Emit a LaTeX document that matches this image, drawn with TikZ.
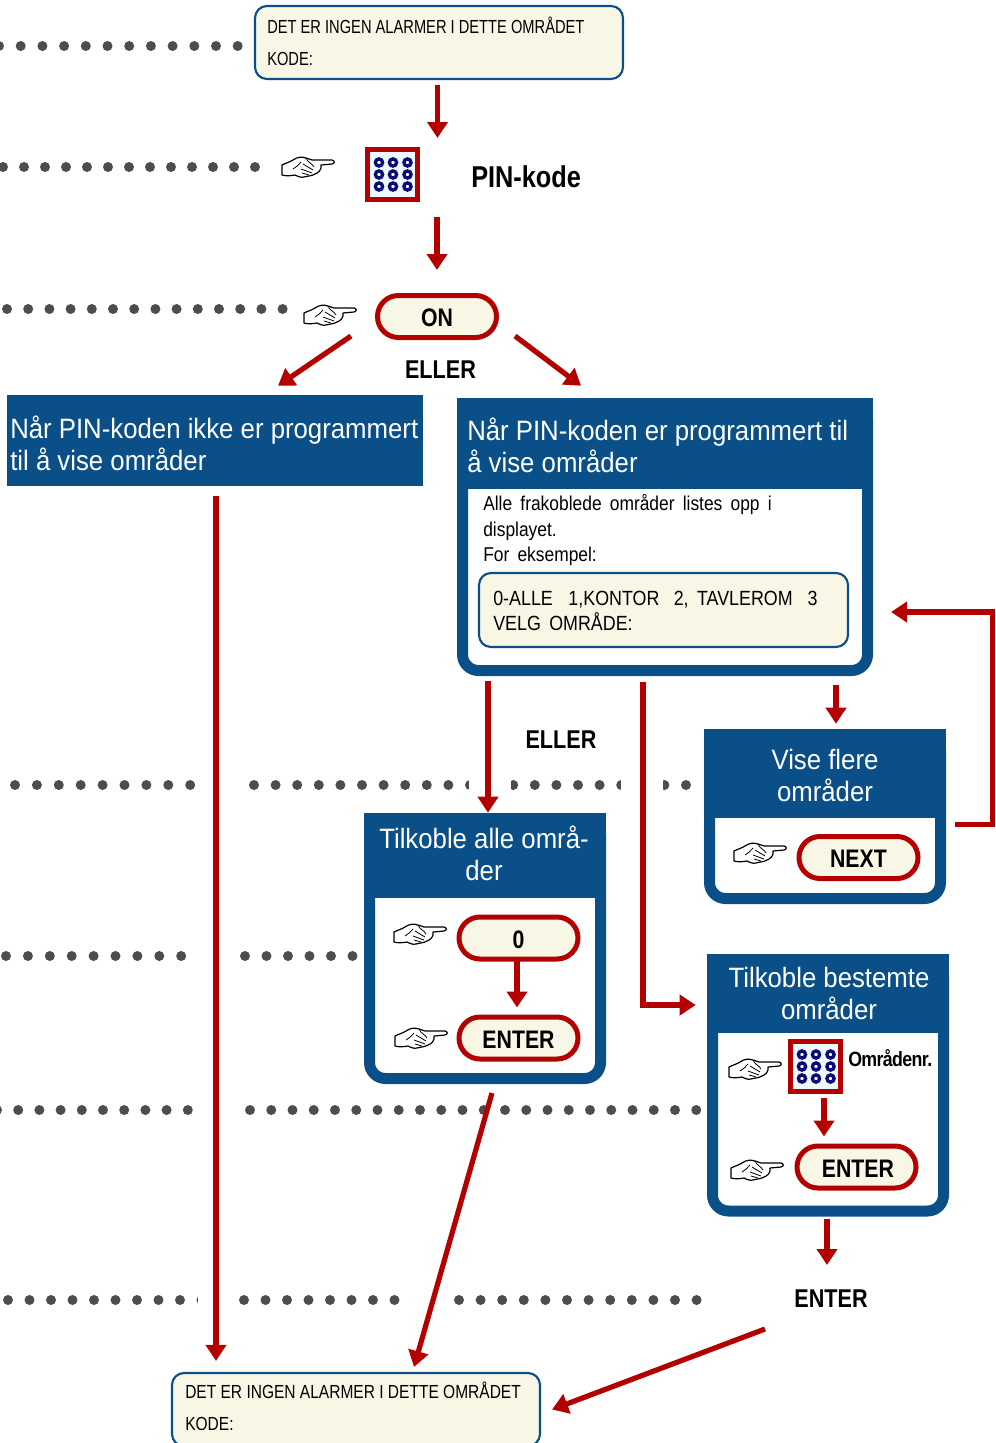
\documentclass[tikz,border=0pt]{standalone}
\usepackage{fontspec}
\usepackage{tikz}
\usetikzlibrary{arrows.meta}
\setmainfont{Liberation Sans}
\newfontfamily\topfont[FakeStretch=0.775]{Liberation Sans}
\newfontfamily\narrowfont[FakeStretch=0.82]{Liberation Sans}
\newfontfamily\bodyfont[FakeStretch=0.87]{Liberation Sans}
\newfontfamily\barfont[FakeStretch=0.92]{Liberation Sans}
\newfontfamily\narrowbold[FakeStretch=0.84]{Liberation Sans Bold}
\newfontfamily\tightbold[FakeStretch=0.86,LetterSpace=-3]{Liberation Sans Bold}
\definecolor{barblue}{HTML}{0A4F87}
\definecolor{arrowred}{HTML}{B30000}
\definecolor{lcdcream}{HTML}{F8F7E6}
\definecolor{dotgrey}{HTML}{4D4D4D}
\definecolor{padnavy}{HTML}{0B0B78}
\tikzset{
  redarrow/.style={draw=arrowred,line width=3.9pt,-{Triangle[width=15pt,length=12pt]}},
  lcdbox/.style={draw=barblue,line width=1.6pt,fill=lcdcream,rounded corners=9pt},
  bluebar/.style={fill=barblue,inner sep=0pt},
  blueframe/.style={draw=barblue,fill=white,line width=8.25pt,rounded corners=12pt},
  keybtn/.style={draw=arrowred,fill=lcdcream,line width=3.75pt,rounded corners=15.7pt,minimum width=89.25pt,minimum height=31.5pt,inner sep=0pt,text height=15.7pt,text depth=0pt,font=\narrowbold\fontsize{19}{19}\selectfont},
  lcdtext/.style={anchor=base west,inner sep=0.75pt,font=\narrowfont\fontsize{14.2}{14}\selectfont},
  bodytext/.style={anchor=base west,inner sep=0.75pt,font=\bodyfont\fontsize{15}{15}\selectfont},
  bartext/.style={anchor=base,inner sep=0.75pt,text=white,font=\barfont\fontsize{21}{24}\selectfont},
  boldtext/.style={inner sep=0.75pt,font=\narrowbold\fontsize{19.3}{19}\selectfont},
  padbox/.style={draw=arrowred,fill=white!93!cyan,line width=3.75pt,minimum size=37.5pt,inner sep=0pt}
}
\newcommand{\handsign}[1]{
  \begin{scope}[shift={#1},yshift=1.5pt]
    \draw[fill=white,line width=0.9pt,line join=round] (0,8) .. controls (4,6) and (8,5) .. (11,3) .. controls (15,0) and (20,-0.5) .. (24,1) -- (30,3) -- (50,3) .. controls (53,3.5) and (53,6.5) .. (50,7) -- (39,8) .. controls (40,13) and (36,16) .. (33,17) .. controls (30,19) and (25,19) .. (22,20) .. controls (19,21) and (15,19) .. (13,18) .. controls (8,19) and (3,19) .. (0,18) -- cycle;
    \draw[line width=0.6pt] (24,1) .. controls (26,6) and (30,6) .. (32,10) (21,7) -- (31,13) (19,12) -- (30,16) (20,16) -- (27,18) (11,12) .. controls (14,10) and (17,8) .. (19,5);
  \end{scope}
}
\newcommand{\keydots}[1]{
  \begin{scope}[shift={#1}]
    \foreach \px in {-13.5,0.5,15}{
      \foreach \py in {-12,0,12}{
        \draw[draw=padnavy,fill=white,line width=2.5pt] (\px,\py) circle (2.7pt);
      }
    }
  \end{scope}
}
\begin{document}
\begin{tikzpicture}[x=0.75pt,y=0.75pt,yscale=-1,xscale=1]
\useasboundingbox (0,0) rectangle (996,1443);

%Dotted rows
\foreach \dotx in {-1,20.7,...,240}{\fill[dotgrey] (\dotx,46) circle (3.75pt);}
\foreach \dotx in {3,24,...,256}{\fill[dotgrey] (\dotx,167) circle (3.75pt);}
\foreach \dotx in {7,28.2,...,284}{\fill[dotgrey] (\dotx,309) circle (3.75pt);}
\foreach \dotx in {15,36.9,...,191}{\fill[dotgrey] (\dotx,785) circle (3.75pt);}
\foreach \dotx in {254,275.6,...,690}{\fill[dotgrey] (\dotx,785) circle (3.75pt);}
\foreach \dotx in {6,27.9,...,206}{\fill[dotgrey] (\dotx,956) circle (3.75pt);}
\foreach \dotx in {245,266.5,...,353}{\fill[dotgrey] (\dotx,956) circle (3.75pt);}
\foreach \dotx in {-3,18.2,...,189}{\fill[dotgrey] (\dotx,1110) circle (3.75pt);}
\foreach \dotx in {250,271.25,...,700}{\fill[dotgrey] (\dotx,1110) circle (3.75pt);}
\foreach \dotx in {8,29.5,...,205}{\fill[dotgrey] (\dotx,1300) circle (3.75pt);}
\foreach \dotx in {244,265.5,...,396}{\fill[dotgrey] (\dotx,1300) circle (3.75pt);}
\foreach \dotx in {459,480.6,...,700}{\fill[dotgrey] (\dotx,1300) circle (3.75pt);}
%Gaps in the rows
\fill[white] (469,775) rectangle (511,795);
\fill[white] (621,775) rectangle (663,795);
\fill[white] (197.5,946) rectangle (225,966);
\fill[white] (197.5,1290) rectangle (225,1310);

%LCD top
\node[lcdbox,minimum width=276pt,minimum height=54.75pt] (alarmtop) at (439,42.5) {};
\node[lcdtext,font=\topfont\fontsize{14.2}{14}\selectfont] (alarmtopa) at (266,33.5) {DET ER INGEN ALARMER I DETTE OMRÅDET};
\node[lcdtext,font=\topfont\fontsize{14.2}{14}\selectfont] (alarmtopb) at (266,65.5) {KODE:};

%Keypad PIN
\node[padbox] (pinpad) at (392.5,174.5) {};
\keydots{(pinpad.center)}
\handsign{(282,155)}
\node[boldtext,anchor=west,font=\narrowbold\fontsize{22.6}{23}\selectfont] (pinlabel) at (470,177) {PIN-kode};

%ON
\node[keybtn] (onbtn) at (437,316.5) {ON};
\handsign{(304,303)}
\node[boldtext] (ellerone) at (440.5,370) {ELLER};

%Left bar
\node[bluebar,minimum width=312pt,minimum height=68.25pt] (leftbar) at (215,440.5) {};
\node[bartext,anchor=base west] (leftbara) at (9,438) {Når PIN-koden ikke er programmert};
\node[bartext,anchor=base west] (leftbarb) at (9,470) {til å vise områder};

%Right frame
\node[blueframe,minimum width=303.75pt,minimum height=200.25pt] (rightframe) at (665,537) {};
\node[bluebar,minimum width=312pt,minimum height=68.25pt] (rightbar) at (665,443.5) {};
\node[bartext,anchor=base west] (rightbara) at (466,440) {Når PIN-koden er programmert til};
\node[bartext,anchor=base west] (rightbarb) at (466,472) {å vise områder};
\node[bodytext] (bodya) at (482,510.5) {Alle\, frakoblede\, områder\, listes\, opp\, i};
\node[bodytext] (bodyb) at (482,536) {displayet.};
\node[bodytext] (bodyc) at (482,561) {For\, eksempel:};
\node[lcdbox,minimum width=276.75pt,minimum height=55.5pt] (lcdareas) at (663.5,610) {};
\node[bodytext,font=\bodyfont\fontsize{15.4}{15}\selectfont] (lcdareasa) at (492,605) {0-ALLE\hspace{8pt} 1,KONTOR\hspace{7pt} 2,\, TAVLEROM\hspace{7.5pt} 3};
\node[bodytext,font=\bodyfont\fontsize{15.4}{15}\selectfont] (lcdareasb) at (492,630) {VELG\, OMRÅDE:};

%Vise flere
\node[blueframe,minimum width=173.25pt,minimum height=123pt] (nextframe) at (825,816.5) {};
\node[bluebar,minimum width=181.5pt,minimum height=66.75pt] (nextbar) at (825,773.5) {};
\node[bartext] (nextbara) at (825,769) {Vise flere};
\node[bartext] (nextbarb) at (825,801) {områder};
\node[keybtn] (nextbtn) at (858.5,857.5) {NEXT};
\handsign{(734,841)}
\node[boldtext] (ellertwo) at (561,740) {ELLER};

%Tilkoble alle
\node[blueframe,minimum width=173.25pt,minimum height=195pt] (allframe) at (485,948.5) {};
\node[bluebar,minimum width=181.5pt,minimum height=63.75pt] (allbar) at (485,855.5) {};
\node[bartext] (allbara) at (484,848) {Tilkoble alle områ-};
\node[bartext] (allbarb) at (484,880) {der};
\node[keybtn] (zerobtn) at (518.5,938) {0};
\node[keybtn] (enterall) at (518.5,1038) {ENTER};
\handsign{(394,922)}
\handsign{(395,1026)}

%Tilkoble bestemte
\node[blueframe,minimum width=173.25pt,minimum height=188.25pt] (bestframe) at (828,1085.5) {};
\node[bluebar,minimum width=181.5pt,minimum height=59.25pt] (bestbar) at (828,993.5) {};
\node[bartext] (bestbara) at (829,987) {Tilkoble bestemte};
\node[bartext] (bestbarb) at (829,1019) {områder};
\node[padbox] (areapad) at (815.5,1066.5) {};
\keydots{(areapad.center)}
\handsign{(729,1057)}
\handsign{(731,1158)}
\node[boldtext,anchor=west,font=\tightbold\fontsize{15.5}{15}\selectfont] (arealabel) at (847,1058) {Områdenr.};
\node[keybtn] (enterbest) at (856.5,1167) {\hspace{2.2pt}ENTER};
\node[boldtext] (entertxt) at (831,1299) {ENTER};

%LCD bottom
\node[lcdbox,minimum width=276pt,minimum height=54.75pt] (alarmbot) at (356,1409.5) {};
\node[lcdtext] (alarmbota) at (184,1398.5) {DET ER INGEN ALARMER I DETTE OMRÅDET};
\node[lcdtext] (alarmbotb) at (184,1430.5) {KODE:};

%Arrows
\draw[redarrow] ([shift={(-1.5,5)}]alarmtop.south) -- ([shift={(45,-9)}]pinpad.north);
\draw[redarrow] ([shift={(44.5,15)}]pinpad.south) -- ([shift={(0,-23)}]onbtn.north);
\draw[redarrow] ([shift={(-86,-4)}]onbtn.south) -- ([shift={(63,-9)}]leftbar.north);
\draw[redarrow] ([shift={(78,-4)}]onbtn.south) -- ([shift={(-84,-12)}]rightbar.north);
\draw[redarrow] ([shift={(1,10)}]leftbar.south) -- ([shift={(-140,-11)}]alarmbot.north);
\draw[redarrow] ([shift={(-177,5)}]rightframe.south) -- ([shift={(3,0)}]allbar.north);
\draw[redarrow] ([shift={(-22,6)}]rightframe.south) |- ([shift={(-11,11.5)}]bestbar.west);
\draw[redarrow] ([shift={(171,9)}]rightframe.south) -- ([shift={(11,-5)}]nextbar.north);
\draw[redarrow] ([shift={(9,6)}]nextbar.south east) -- ++(37,0) |- ([shift={(18,75)}]rightframe.east);
\draw[redarrow] ([shift={(-1.5,-1)}]zerobtn.south) -- ([shift={(-1.5,-7)}]enterall.north);
\draw[redarrow] ([shift={(8.5,4)}]areapad.south) -- ([shift={(-32.5,-7)}]enterbest.north);
\draw[redarrow] ([shift={(-1,2)}]bestframe.south) -- ([shift={(-4,-34)}]entertxt.center);
\draw[redarrow] ([shift={(7,9)}]allframe.south) -- ([shift={(58,-5)}]alarmbot.north);
\draw[redarrow] ([shift={(-66,30)}]entertxt.center) -- ([shift={(11,0)}]alarmbot.east);

\end{tikzpicture}
\end{document}
